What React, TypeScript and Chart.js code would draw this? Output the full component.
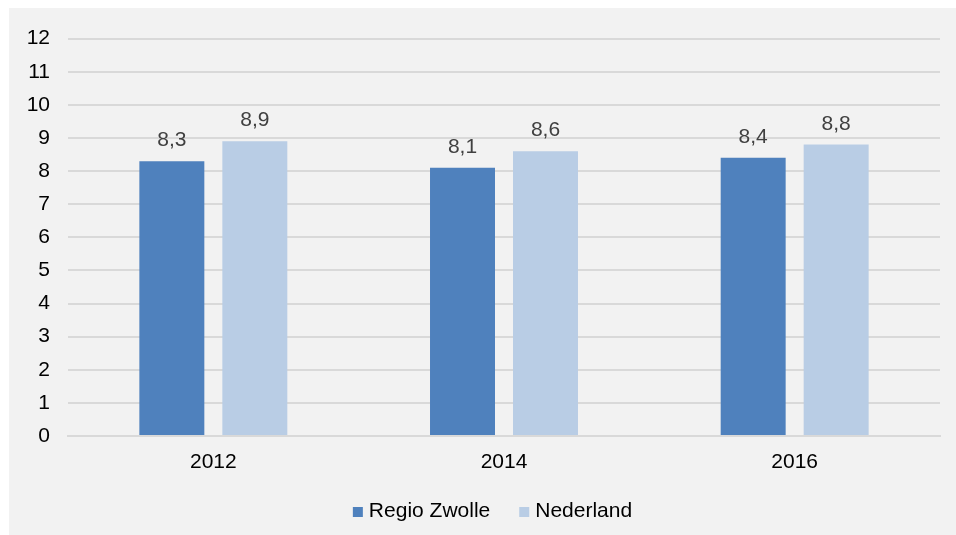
import React, { useEffect, useRef } from "react";
import { Chart, registerables } from "chart.js";

Chart.register(...registerables);

const categories = ["2012", "2014", "2016"];
const seriesNames = ["Regio Zwolle", "Nederland"];
const regioZwolle = [8.3, 8.1, 8.4];
const nederland = [8.9, 8.6, 8.8];
const seriesColors = ["#4f81bd", "#b9cde5"];
const yMin = 0;
const yMax = 12;
const yStep = 1;

const FONT = "Arial, 'Liberation Sans', sans-serif";
const FONT_SIZE = 21;

const valueLabels = {
  id: "valueLabels",
  afterDatasetsDraw(chart: any) {
    const ctx = chart.ctx;
    ctx.save();
    ctx.font = `${FONT_SIZE}px ${FONT}`;
    ctx.fillStyle = "#404040";
    ctx.textAlign = "center";
    ctx.textBaseline = "alphabetic";
    chart.data.datasets.forEach((ds: any, di: number) => {
      const meta = chart.getDatasetMeta(di);
      meta.data.forEach((bar: any, i: number) => {
        const v = ds.data[i] as number;
        ctx.fillText(v.toFixed(1).replace(".", ","), bar.x, bar.y - 15);
      });
    });
    ctx.restore();
  },
};

const customLegend = {
  id: "customLegend",
  afterDraw(chart: any) {
    const ctx = chart.ctx;
    ctx.save();
    ctx.font = `${FONT_SIZE}px ${FONT}`;
    const box = 10;
    const gapText = 6;
    const gapItem = 29;
    const items = chart.data.datasets.map((ds: any) => ({
      label: ds.label,
      color: ds.backgroundColor,
      w: ctx.measureText(ds.label).width,
    }));
    let total = 0;
    items.forEach((it: any, i: number) => {
      total += box + gapText + it.w + (i < items.length - 1 ? gapItem : 0);
    });
    const centerX = 483.5;
    const cy = 503;
    let x = centerX - total / 2;
    items.forEach((it: any) => {
      ctx.fillStyle = it.color;
      ctx.fillRect(x, cy - 4, box, box);
      x += box + gapText;
      ctx.fillStyle = "#000000";
      ctx.textAlign = "left";
      ctx.textBaseline = "middle";
      ctx.fillText(it.label, x, cy);
      x += it.w + gapItem;
    });
    ctx.restore();
  },
};

export default function App() {
  const canvasRef = useRef<HTMLCanvasElement | null>(null);

  useEffect(() => {
    document.body.style.overflow = "hidden";
    const canvas = canvasRef.current;
    if (!canvas) return;
    const chart = new Chart(canvas, {
      type: "bar",
      data: {
        labels: categories,
        datasets: [
          {
            label: seriesNames[0],
            data: regioZwolle,
            backgroundColor: seriesColors[0],
            categoryPercentage: 0.571,
            barPercentage: 0.783,
          },
          {
            label: seriesNames[1],
            data: nederland,
            backgroundColor: seriesColors[1],
            categoryPercentage: 0.571,
            barPercentage: 0.783,
          },
        ],
      },
      options: {
        animation: false,
        responsive: true,
        maintainAspectRatio: false,
        layout: { padding: { left: 0, right: 16, top: 29, bottom: 0 } },
        plugins: {
          legend: { display: false },
          tooltip: { enabled: false },
          title: { display: false },
        },
        scales: {
          x: {
            grid: { display: false, drawTicks: false },
            border: { display: true, color: "#d9d9d9", width: 2 },
            ticks: {
              color: "#000000",
              font: { family: FONT, size: FONT_SIZE },
              padding: 14,
            },
            afterFit(scale: any) {
              scale.height = 99;
            },
          },
          y: {
            min: yMin,
            max: yMax,
            grid: { color: "#d9d9d9", lineWidth: 2, drawTicks: false },
            border: { display: false },
            ticks: {
              stepSize: yStep,
              color: "#000000",
              font: { family: FONT, size: FONT_SIZE },
              padding: 18,
            },
            afterFit(scale: any) {
              scale.width = 59;
            },
          },
        },
      },
      plugins: [valueLabels, customLegend],
    });
    return () => chart.destroy();
  }, []);

  return (
    <div
      style={{
        position: "fixed",
        left: 9,
        top: 8,
        right: 0,
        bottom: 0,
        background: "#f2f2f2",
      }}
    >
      <div style={{ position: "relative", width: 947, height: 527 }}>
        <canvas ref={canvasRef} />
      </div>
    </div>
  );
}
